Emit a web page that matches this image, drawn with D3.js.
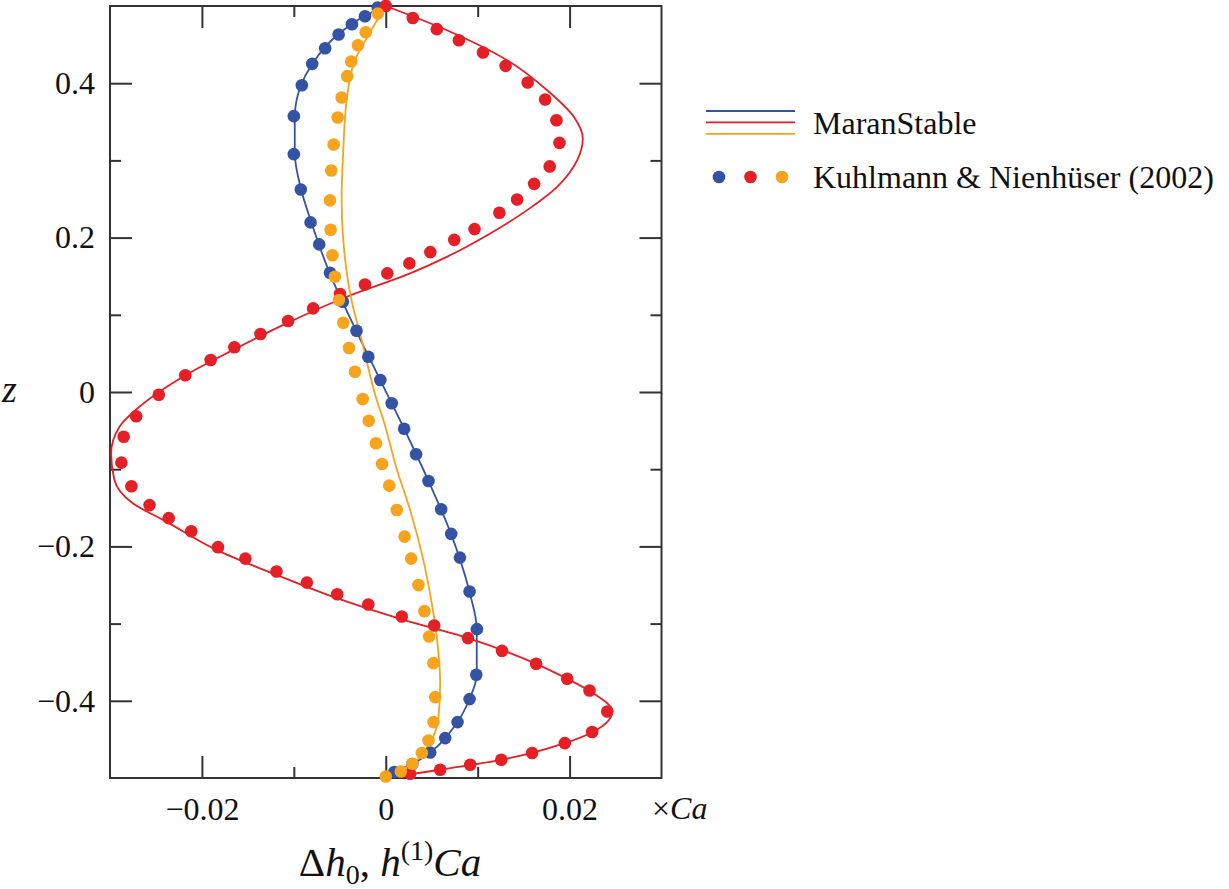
<!DOCTYPE html>
<meta charset="utf-8">
<style>
body { margin: 0; background: #fff; }
text { font-family: "Liberation Serif", "Times New Roman", serif; fill: #111; }
.tick text { font-size: 32px; }
.tick line { stroke: #333; stroke-width: 2; }
.frame { fill: none; stroke: #333; stroke-width: 2; }
.curve { fill: none; stroke-width: 1.8; }
.legend text { font-size: 32px; }
</style>
<svg width="1229" height="889"></svg>
<script src="https://d3js.org/d3.v7.min.js"></script>
<script>

// colours of the three cases
var colors = ["#3553a4", "#e41f26", "#f7a31c"];

// tick values
var xMajor = [-0.02, 0, 0.02],
    xMinor = [-0.01, 0.01],
    yMajor = [-0.4, -0.2, 0, 0.2, 0.4],
    yMinor = [-0.3, -0.1, 0.1, 0.3];

// MaranStable curves  [x, z]
var blueLine = [[0,0.5],[-0.0023,0.487],[-0.0052,0.463],[-0.008,0.425],[-0.0093,0.395],[-0.0099,0.355],
  [-0.0099,0.31],[-0.0092,0.262],[-0.0081,0.22],[-0.0061,0.154],[-0.0032,0.079],[-0.0006,0.0155],
  [0.002,-0.0476],[0.00465,-0.1152],[0.0071,-0.1838],[0.0091,-0.2585],[0.0099,-0.307],[0.0099,-0.366],
  [0.0091,-0.398],[0.0078,-0.4276],[0.0048,-0.467],[0.0029,-0.482],[0.0009,-0.4925],[0,-0.5]];

var redLine = [[0,0.5],[0.00665,0.4686],[0.0132,0.4298],[0.01756,0.3909],[0.02046,0.3564],[0.02144,0.3284],
  [0.02083,0.3003],[0.01865,0.2658],[0.01538,0.2356],[0.01137,0.2054],[0.00665,0.1751],[0.00265,0.1537],
  [-0.00425,0.1234],[-0.0108,0.0889],[-0.01662,0.0544],[-0.02207,0.0198],[-0.02679,-0.019],[-0.02897,-0.0449],
  [-0.02988,-0.0794],[-0.02952,-0.1139],[-0.02752,-0.1441],[-0.02388,-0.1679],[-0.01843,-0.2045],
  [-0.01189,-0.2369],[-0.00534,-0.2671],[0.00156,-0.2939],[0.00894,-0.3188],[0.01636,-0.3521],
  [0.01974,-0.3715],[0.02228,-0.388],[0.02465,-0.4139],[0.02264,-0.4397],[0.01948,-0.4548],
  [0.01257,-0.4764],[0.00592,-0.4893],[0,-0.5]];

var orangeLine = [[0,0.5],[-0.0019,0.4621],[-0.00335,0.4298],[-0.00425,0.378],[-0.00462,0.3133],
  [-0.0048,0.2485],[-0.00462,0.1968],[-0.00373,0.1191],[-0.00262,0.0673],[-0.00098,-0.0104],
  [-0.00026,-0.0362],[0.00123,-0.101],[0.00265,-0.1528],[0.00396,-0.211],[0.00494,-0.2693],
  [0.00559,-0.321],[0.00592,-0.3767],[0.00574,-0.4207],[0.00483,-0.4544],[0.0032,-0.479],[0,-0.5]];

// Kuhlmann & Nienhüser (2002) points  [x, z]
var blueDots = [[-0.00087,0.498],[-0.00226,0.4867],[-0.00368,0.4764],[-0.00513,0.463],[-0.00659,0.4453],
  [-0.008,0.425],[-0.00913,0.3974],[-0.01,0.3573],[-0.01,0.3081],[-0.00924,0.2624],[-0.00818,0.2197],
  [-0.00724,0.1912],[-0.00607,0.1544],[-0.00466,0.1169],[-0.00318,0.0794],[-0.0019,0.0457],
  [-0.00059,0.0155],[0.00065,-0.0146],[0.002,-0.0476],[0.0033,-0.0806],[0.00465,-0.1152],
  [0.00603,-0.1518],[0.00712,-0.1838],[0.00807,-0.2145],[0.00912,-0.2585],[0.00992,-0.3072],
  [0.00985,-0.3663],[0.00912,-0.3978],[0.00781,-0.4276],[0.00647,-0.4483],[0.00483,-0.4669],
  [0.0029,-0.4819],[0.00094,-0.4923]];

var redDots = [[0,0.5],[0.00294,0.4845],[0.00556,0.47],[0.00796,0.4557],[0.01058,0.4398],[0.01304,0.4224],
  [0.01544,0.4009],[0.01734,0.3789],[0.01857,0.3521],[0.0189,0.3227],[0.01784,0.2922],[0.01614,0.2696],
  [0.01429,0.2494],[0.01236,0.2321],[0.00966,0.211],[0.00745,0.197],[0.00485,0.1812],[0.00257,0.1666],
  [0.00017,0.1537],[-0.00226,0.1392],[-0.00498,0.1269],[-0.0079,0.1083],[-0.01062,0.0919],
  [-0.01363,0.0751],[-0.01647,0.0579],[-0.01905,0.0414],[-0.02181,0.0216],[-0.02469,-0.0035],
  [-0.02715,-0.0315],[-0.02851,-0.0579],[-0.02876,-0.0915],[-0.02767,-0.1221],[-0.0257,-0.1465],
  [-0.02361,-0.1634],[-0.02116,-0.1803],[-0.01825,-0.201],[-0.01527,-0.2158],[-0.01189,-0.2326],
  [-0.00858,-0.2469],[-0.00528,-0.2619],[-0.0019,-0.2753],[0.00174,-0.2909],[0.00527,-0.3025],
  [0.00894,-0.3188],[0.01265,-0.3353],[0.01636,-0.3521],[0.01974,-0.3715],[0.02217,-0.3867],
  [0.0241,-0.4139],[0.02246,-0.4405],[0.01948,-0.4548],[0.01592,-0.4677],[0.01257,-0.4764],
  [0.00919,-0.4828],[0.00592,-0.4893],[0.00265,-0.4945]];

var orangeDots = [[-0.00087,0.4902],[-0.00218,0.466],[-0.00302,0.4492],[-0.00375,0.4281],[-0.00419,0.4091],
  [-0.0048,0.3815],[-0.00523,0.3556],[-0.00567,0.3206],[-0.00593,0.287],[-0.00607,0.2482],[-0.006,0.2101],
  [-0.0058,0.1771],[-0.00553,0.1493],[-0.00509,0.1191],[-0.00462,0.0897],[-0.004,0.057],[-0.00335,0.0263],
  [-0.00251,-0.0091],[-0.00185,-0.0372],[-0.00106,-0.0664],[-0.0004,-0.0932],[0.00038,-0.1213],
  [0.0012,-0.1528],[0.00205,-0.1873],[0.00276,-0.2158],[0.00356,-0.2501],[0.00421,-0.2839],
  [0.00472,-0.3168],[0.00519,-0.3512],[0.00538,-0.3952],[0.00519,-0.4276],[0.00465,-0.4514],
  [0.00393,-0.4677],[0.0029,-0.4816],[0.00164,-0.4915],[0,-0.498]];

var lineLabel = "MaranStable",
    dotLabel = "Kuhlmann & Nienhüser (2002)";

var svg = d3.select("svg"),
    plotLeft = 110, plotRight = 661.5, plotTop = 6, plotBottom = 778;

var x = d3.scaleLinear().domain([-0.03, 0.03]).range([plotLeft, plotRight]),
    y = d3.scaleLinear().domain([-0.5, 0.5]).range([plotBottom, plotTop]);

var fmt = function(d) { return d === 0 ? "0" : (d < 0 ? "\u2212" : "") + Math.abs(d); };

// ticks on all four sides, pointing inward
function addAxis(axis, tx, ty) {
  var g = svg.append("g").attr("transform", "translate(" + tx + "," + ty + ")").call(axis);
  g.select(".domain").remove();
  return g;
}
addAxis(d3.axisBottom(x).tickValues(xMajor).tickSize(-22).tickPadding(19).tickFormat(fmt), 0, plotBottom);
addAxis(d3.axisBottom(x).tickValues(xMinor).tickSize(-11).tickFormat(""), 0, plotBottom);
addAxis(d3.axisTop(x).tickValues(xMajor).tickSize(-22).tickFormat(""), 0, plotTop);
addAxis(d3.axisTop(x).tickValues(xMinor).tickSize(-11).tickFormat(""), 0, plotTop);
addAxis(d3.axisLeft(y).tickValues(yMajor).tickSize(-22).tickPadding(15).tickFormat(fmt), plotLeft, 0);
addAxis(d3.axisLeft(y).tickValues(yMinor).tickSize(-11).tickFormat(""), plotLeft, 0);
addAxis(d3.axisRight(y).tickValues(yMajor).tickSize(-22).tickFormat(""), plotRight, 0);
addAxis(d3.axisRight(y).tickValues(yMinor).tickSize(-11).tickFormat(""), plotRight, 0);
svg.selectAll(".tick text").attr("fill", "#111").attr("font-family", null).attr("font-size", null);

svg.append("rect").attr("class", "frame")
    .attr("x", plotLeft).attr("y", plotTop)
    .attr("width", plotRight - plotLeft).attr("height", plotBottom - plotTop);

// z decreases monotonically along every curve
var line = d3.line()
    .x(function(d) { return x(d[0]); })
    .y(function(d) { return y(d[1]); })
    .curve(d3.curveMonotoneY);

[blueLine, redLine, orangeLine].forEach(function(s, i) {
  svg.append("path").attr("class", "curve").attr("d", line(s)).attr("stroke", colors[i]);
});

[blueDots, redDots, orangeDots].forEach(function(s, i) {
  svg.append("g").selectAll("circle")
    .data(s)
    .enter().append("circle")
      .attr("cx", function(d) { return x(d[0]); })
      .attr("cy", function(d) { return y(d[1]); })
      .attr("r", 6.3)
      .attr("fill", colors[i]);
});

// axis titles
svg.append("text")
    .attr("x", 2).attr("y", 402)
    .style("font-size", "38px").style("font-style", "italic")
    .text("z");

var ca = svg.append("text").attr("x", 652).attr("y", 819).style("font-size", "32px");
ca.append("tspan").text("\u00d7");
ca.append("tspan").style("font-style", "italic").text("Ca");

var title = svg.append("text")
    .attr("x", 390).attr("y", 876)
    .attr("text-anchor", "middle")
    .style("font-size", "41px");
title.append("tspan").text("\u0394");
title.append("tspan").style("font-style", "italic").text("h");
title.append("tspan").attr("dy", 8).style("font-size", "28px").text("0");
title.append("tspan").attr("dy", -8).text(", ");
title.append("tspan").style("font-style", "italic").text("h");
title.append("tspan").attr("dy", -16).style("font-size", "28px").text("(1)");
title.append("tspan").attr("dy", 16).style("font-style", "italic").text("Ca");

// legend
var legend = svg.append("g").attr("class", "legend");
colors.forEach(function(c, i) {
  legend.append("line")
      .attr("x1", 706).attr("x2", 795)
      .attr("y1", 111 + i * 11.4).attr("y2", 111 + i * 11.4)
      .attr("stroke", c).attr("stroke-width", 1.8);
  legend.append("circle")
      .attr("cx", 719 + i * 31.5).attr("cy", 177)
      .attr("r", 6.3).attr("fill", c);
});
legend.append("text").attr("x", 813).attr("y", 134).text(lineLabel);
legend.append("text").attr("x", 813).attr("y", 188).text(dotLabel);

</script>
